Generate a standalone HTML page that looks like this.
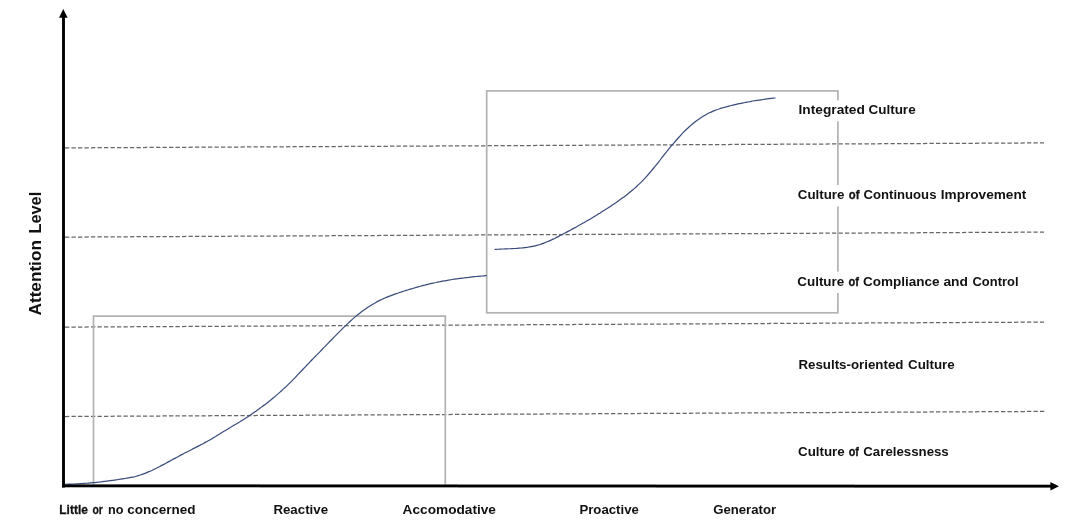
<!DOCTYPE html>
<html lang="en">
<head>
<meta charset="utf-8">
<title>Attention Level Culture Chart</title>
<style>
html,body{margin:0;padding:0;background:#fff;}
body{width:1068px;height:526px;overflow:hidden;}
svg{display:block;}
text{font-family:"Liberation Sans",sans-serif;font-weight:bold;fill:#111;}
.lbl{font-size:13.4px;}
.ax{font-size:16.5px;}
.nar{stroke:#111;stroke-width:0.3px;}
</style>
</head>
<body>
<svg width="1068" height="526" viewBox="0 0 1068 526">
<rect width="1068" height="526" fill="#fff"/>
<!-- dashed level lines -->
<g stroke="#666" stroke-width="1.25" stroke-dasharray="4.3 2.2" fill="none">
<line x1="65" y1="147.9" x2="1044" y2="142.9"/>
<line x1="65" y1="237.1" x2="1044" y2="232.1"/>
<line x1="65" y1="327.1" x2="1044" y2="322.1"/>
<line x1="65" y1="416.5" x2="1044.5" y2="411.4"/>
</g>
<!-- grey boxes -->
<g stroke="#b2b2b2" stroke-width="1.7" fill="none">
<path d="M93.5 484.5 V316.1 H445.3 V484.5"/>
<rect x="486.7" y="90.9" width="351.2" height="221.9"/>
</g>
<!-- curves -->
<g stroke="#384b7b" stroke-width="1.2" fill="none" stroke-linecap="round" stroke-linejoin="round">
<path d="M64.3 484.3 C65.0 484.3 67.0 484.2 68.3 484.2 C69.6 484.2 71.0 484.1 72.3 484.1 C73.6 484.0 75.0 484.0 76.3 483.9 C77.6 483.8 79.0 483.8 80.3 483.7 C81.6 483.6 83.0 483.5 84.3 483.4 C85.6 483.3 87.0 483.2 88.3 483.1 C89.6 483.0 91.0 482.9 92.3 482.7 C93.6 482.6 95.0 482.5 96.3 482.3 C97.6 482.2 99.0 482.0 100.3 481.9 C101.6 481.7 103.0 481.6 104.3 481.4 C105.6 481.2 107.0 481.1 108.3 480.9 C109.6 480.7 111.0 480.5 112.3 480.3 C113.6 480.1 115.0 480.0 116.3 479.8 C117.6 479.6 119.0 479.4 120.3 479.2 C121.6 479.0 123.0 478.8 124.3 478.6 C125.6 478.4 127.0 478.2 128.3 477.9 C129.6 477.7 131.0 477.5 132.3 477.2 C133.6 476.9 135.0 476.6 136.3 476.2 C137.6 475.8 139.0 475.4 140.3 475.0 C141.6 474.6 143.0 474.1 144.3 473.6 C145.6 473.1 147.0 472.5 148.3 471.9 C149.6 471.4 151.0 470.8 152.3 470.2 C153.6 469.5 155.0 468.9 156.3 468.2 C157.6 467.6 159.0 466.9 160.3 466.2 C161.6 465.5 163.0 464.8 164.3 464.1 C165.6 463.4 167.0 462.6 168.3 461.9 C169.6 461.2 171.0 460.5 172.3 459.7 C173.6 459.0 175.0 458.3 176.3 457.6 C177.6 456.8 179.0 456.1 180.3 455.4 C181.6 454.7 183.0 454.0 184.3 453.3 C185.6 452.6 187.0 451.9 188.3 451.2 C189.6 450.6 191.0 449.9 192.3 449.2 C193.6 448.5 195.0 447.8 196.3 447.1 C197.6 446.5 199.0 445.8 200.3 445.1 C201.6 444.4 203.0 443.7 204.3 442.9 C205.6 442.2 207.0 441.5 208.3 440.7 C209.6 440.0 211.0 439.2 212.3 438.4 C213.6 437.7 215.0 436.9 216.3 436.1 C217.6 435.2 219.0 434.4 220.3 433.6 C221.6 432.7 223.0 431.9 224.3 431.1 C225.6 430.3 227.0 429.5 228.3 428.7 C229.6 427.9 231.0 427.1 232.3 426.3 C233.6 425.5 235.0 424.7 236.3 423.9 C237.6 423.1 239.0 422.3 240.3 421.5 C241.6 420.6 243.0 419.8 244.3 419.0 C245.6 418.1 247.0 417.3 248.3 416.4 C249.6 415.5 251.0 414.6 252.3 413.7 C253.6 412.8 255.0 411.9 256.3 411.0 C257.6 410.0 259.0 409.1 260.3 408.1 C261.6 407.1 263.0 406.1 264.3 405.1 C265.6 404.1 267.0 403.1 268.3 402.0 C269.6 401.0 271.0 399.9 272.3 398.8 C273.6 397.7 275.0 396.6 276.3 395.4 C277.6 394.3 279.0 393.1 280.3 391.9 C281.6 390.7 283.0 389.5 284.3 388.2 C285.6 387.0 287.0 385.7 288.3 384.4 C289.6 383.1 291.0 381.8 292.3 380.4 C293.6 379.1 295.0 377.7 296.3 376.3 C297.6 374.9 299.0 373.5 300.3 372.1 C301.6 370.7 303.0 369.3 304.3 367.9 C305.6 366.5 307.0 365.1 308.3 363.7 C309.6 362.3 311.0 360.9 312.3 359.5 C313.6 358.1 315.0 356.7 316.3 355.3 C317.6 354.0 319.0 352.6 320.3 351.3 C321.6 349.9 323.0 348.6 324.3 347.2 C325.6 345.8 327.0 344.5 328.3 343.1 C329.6 341.7 331.0 340.3 332.3 339.0 C333.6 337.6 335.0 336.2 336.3 334.9 C337.6 333.5 339.0 332.1 340.3 330.8 C341.6 329.5 343.0 328.2 344.3 326.9 C345.6 325.6 347.0 324.3 348.3 323.1 C349.6 321.8 351.0 320.6 352.3 319.4 C353.6 318.2 355.0 317.1 356.3 315.9 C357.6 314.8 359.0 313.8 360.3 312.7 C361.6 311.7 363.0 310.7 364.3 309.8 C365.6 308.8 367.0 307.9 368.3 307.0 C369.6 306.1 371.0 305.3 372.3 304.5 C373.6 303.7 375.0 302.9 376.3 302.2 C377.6 301.5 379.0 300.8 380.3 300.1 C381.6 299.5 383.0 298.9 384.3 298.3 C385.6 297.7 387.0 297.1 388.3 296.6 C389.6 296.1 391.0 295.6 392.3 295.1 C393.6 294.6 395.0 294.1 396.3 293.6 C397.6 293.2 399.0 292.7 400.3 292.3 C401.6 291.9 403.0 291.4 404.3 291.0 C405.6 290.6 407.0 290.2 408.3 289.8 C409.6 289.3 411.0 288.9 412.3 288.6 C413.6 288.2 415.0 287.8 416.3 287.4 C417.6 287.0 419.0 286.7 420.3 286.3 C421.6 285.9 423.0 285.6 424.3 285.3 C425.6 284.9 427.0 284.6 428.3 284.3 C429.6 283.9 431.0 283.6 432.3 283.3 C433.6 283.0 435.0 282.7 436.3 282.5 C437.6 282.2 439.0 281.9 440.3 281.7 C441.6 281.4 443.0 281.1 444.3 280.9 C445.6 280.7 447.0 280.4 448.3 280.2 C449.6 280.0 451.0 279.8 452.3 279.5 C453.6 279.3 455.0 279.1 456.3 278.9 C457.6 278.7 459.0 278.6 460.3 278.4 C461.6 278.2 463.0 278.0 464.3 277.9 C465.6 277.7 467.0 277.5 468.3 277.4 C469.6 277.2 471.0 277.1 472.3 276.9 C473.6 276.8 475.0 276.6 476.3 276.5 C477.6 276.4 479.0 276.2 480.3 276.1 C481.6 276.0 483.3 275.9 484.3 275.8 C485.3 275.7 486.0 275.6 486.3 275.6"/>
<path d="M495.1 249.4 C495.8 249.3 497.8 249.2 499.1 249.2 C500.4 249.1 501.8 249.0 503.1 249.0 C504.4 248.9 505.8 248.9 507.1 248.8 C508.4 248.8 509.8 248.7 511.1 248.7 C512.4 248.6 513.8 248.5 515.1 248.5 C516.4 248.4 517.8 248.3 519.1 248.2 C520.4 248.1 521.8 247.9 523.1 247.8 C524.4 247.7 525.8 247.5 527.1 247.3 C528.4 247.1 529.8 246.9 531.1 246.6 C532.4 246.4 533.8 246.1 535.1 245.8 C536.4 245.5 537.8 245.1 539.1 244.7 C540.4 244.3 541.8 243.9 543.1 243.4 C544.4 242.9 545.8 242.4 547.1 241.8 C548.4 241.3 549.8 240.7 551.1 240.1 C552.4 239.5 553.8 238.8 555.1 238.2 C556.4 237.5 557.8 236.8 559.1 236.1 C560.4 235.4 561.8 234.7 563.1 234.0 C564.4 233.3 565.8 232.6 567.1 231.9 C568.4 231.2 569.8 230.5 571.1 229.7 C572.4 229.0 573.8 228.3 575.1 227.6 C576.4 226.8 577.8 226.1 579.1 225.3 C580.4 224.6 581.8 223.9 583.1 223.1 C584.4 222.3 585.8 221.6 587.1 220.8 C588.4 220.0 589.8 219.2 591.1 218.5 C592.4 217.7 593.8 216.9 595.1 216.1 C596.4 215.3 597.8 214.5 599.1 213.6 C600.4 212.8 601.8 212.0 603.1 211.1 C604.4 210.3 605.8 209.4 607.1 208.6 C608.4 207.7 609.8 206.8 611.1 205.9 C612.4 205.0 613.8 204.1 615.1 203.2 C616.4 202.3 617.8 201.4 619.1 200.4 C620.4 199.5 621.8 198.6 623.1 197.6 C624.4 196.6 625.8 195.6 627.1 194.5 C628.4 193.5 629.8 192.4 631.1 191.3 C632.4 190.2 633.8 189.1 635.1 187.9 C636.4 186.7 637.8 185.5 639.1 184.2 C640.4 182.9 641.8 181.6 643.1 180.2 C644.4 178.8 645.8 177.3 647.1 175.8 C648.4 174.3 649.8 172.7 651.1 171.2 C652.4 169.6 653.8 167.9 655.1 166.3 C656.4 164.6 657.8 163.0 659.1 161.3 C660.4 159.6 661.8 157.9 663.1 156.2 C664.4 154.5 665.8 152.8 667.1 151.2 C668.4 149.5 669.8 147.9 671.1 146.2 C672.4 144.6 673.8 143.0 675.1 141.5 C676.4 140.0 677.8 138.4 679.1 137.0 C680.4 135.5 681.8 134.1 683.1 132.7 C684.4 131.4 685.8 130.0 687.1 128.8 C688.4 127.5 689.8 126.3 691.1 125.1 C692.4 124.0 693.8 122.8 695.1 121.8 C696.4 120.8 697.8 119.8 699.1 118.9 C700.4 117.9 701.8 117.1 703.1 116.3 C704.4 115.5 705.8 114.7 707.1 114.0 C708.4 113.3 709.8 112.7 711.1 112.1 C712.4 111.5 713.8 110.9 715.1 110.4 C716.4 109.9 717.8 109.4 719.1 109.0 C720.4 108.5 721.8 108.1 723.1 107.7 C724.4 107.3 725.8 106.9 727.1 106.6 C728.4 106.2 729.8 105.9 731.1 105.5 C732.4 105.2 733.8 104.9 735.1 104.6 C736.4 104.3 737.8 104.0 739.1 103.7 C740.4 103.4 741.8 103.2 743.1 102.9 C744.4 102.6 745.8 102.4 747.1 102.1 C748.4 101.9 749.8 101.6 751.1 101.4 C752.4 101.1 753.8 100.9 755.1 100.7 C756.4 100.5 757.8 100.3 759.1 100.1 C760.4 99.9 761.8 99.7 763.1 99.5 C764.4 99.3 765.8 99.1 767.1 98.9 C768.4 98.8 769.8 98.6 771.1 98.4 C772.4 98.3 774.4 98.0 775.1 98.0"/>
</g>
<!-- axes -->
<g stroke="#000" stroke-width="2.9" fill="none">
<line x1="63.5" y1="487.4" x2="63.5" y2="16"/>
</g>
<g fill="#000"><rect x="62.0" y="484.39" width="198.0" height="2.9"/><rect x="260.0" y="484.47" width="198.0" height="2.9"/><rect x="458.0" y="484.55" width="198.0" height="2.9"/><rect x="656.0" y="484.63" width="198.0" height="2.9"/><rect x="854.0" y="484.71" width="198.0" height="2.9"/></g>
<polygon points="63.3,9 67.6,17.8 59,17.8" fill="#000"/>
<polygon points="1059,486.3 1050.4,482.1 1050.4,490.5" fill="#000"/>
<!-- white label backgrounds -->
<g fill="#fff">
<rect x="795" y="100.4" width="124" height="20.9"/>
<rect x="795" y="185" width="236" height="21.4"/>
<rect x="795" y="271.6" width="226" height="21.4"/>
</g>
<!-- labels -->
<text class="lbl" x="798.50" y="113.70" textLength="66.38" lengthAdjust="spacingAndGlyphs">Integrated</text>
<text class="lbl" x="868.40" y="113.70" textLength="47.25" lengthAdjust="spacingAndGlyphs">Culture</text>
<text class="lbl" x="797.80" y="199.40" textLength="46.65" lengthAdjust="spacingAndGlyphs">Culture</text>
<text class="lbl nar" x="848.80" y="199.40" textLength="10.64" lengthAdjust="spacingAndGlyphs">of</text>
<text class="lbl" x="863.50" y="199.40" textLength="72.94" lengthAdjust="spacingAndGlyphs">Continuous</text>
<text class="lbl" x="940.80" y="199.40" textLength="85.45" lengthAdjust="spacingAndGlyphs">Improvement</text>
<text class="lbl" x="797.30" y="286.20" textLength="46.95" lengthAdjust="spacingAndGlyphs">Culture</text>
<text class="lbl nar" x="848.40" y="286.20" textLength="10.45" lengthAdjust="spacingAndGlyphs">of</text>
<text class="lbl" x="862.90" y="286.20" textLength="76.75" lengthAdjust="spacingAndGlyphs">Compliance</text>
<text class="lbl" x="943.40" y="286.20" textLength="24.59" lengthAdjust="spacingAndGlyphs">and</text>
<text class="lbl" x="972.50" y="286.20" textLength="46.00" lengthAdjust="spacingAndGlyphs">Control</text>
<text class="lbl" x="798.40" y="368.85" textLength="105.08" lengthAdjust="spacingAndGlyphs">Results-oriented</text>
<text class="lbl" x="908.00" y="368.85" textLength="46.75" lengthAdjust="spacingAndGlyphs">Culture</text>
<text class="lbl" x="798.00" y="455.85" textLength="46.75" lengthAdjust="spacingAndGlyphs">Culture</text>
<text class="lbl nar" x="848.70" y="455.85" textLength="10.26" lengthAdjust="spacingAndGlyphs">of</text>
<text class="lbl" x="863.30" y="455.85" textLength="85.44" lengthAdjust="spacingAndGlyphs">Carelessness</text>
<text class="lbl nar" x="59.30" y="514.00" textLength="28.60" lengthAdjust="spacingAndGlyphs">Little</text>
<text class="lbl nar" x="92.40" y="514.00" textLength="10.48" lengthAdjust="spacingAndGlyphs">or</text>
<text class="lbl" x="108.10" y="514.00" textLength="15.47" lengthAdjust="spacingAndGlyphs">no</text>
<text class="lbl" x="127.20" y="514.00" textLength="68.18" lengthAdjust="spacingAndGlyphs">concerned</text>
<text class="lbl" x="273.40" y="514.00" textLength="54.64" lengthAdjust="spacingAndGlyphs">Reactive</text>
<text class="lbl" x="402.60" y="514.00" textLength="93.36" lengthAdjust="spacingAndGlyphs">Accomodative</text>
<text class="lbl" x="579.40" y="514.00" textLength="59.44" lengthAdjust="spacingAndGlyphs">Proactive</text>
<text class="lbl" x="713.20" y="514.00" textLength="62.92" lengthAdjust="spacingAndGlyphs">Generator</text>
<!-- y axis title -->
<g transform="translate(40.7 315.5) rotate(-90)"><text class="ax" x="0.00" y="0" textLength="75.38" lengthAdjust="spacingAndGlyphs">Attention</text><text class="ax" x="81.91" y="0" textLength="41.87" lengthAdjust="spacingAndGlyphs">Level</text></g>
</svg>
</body>
</html>
